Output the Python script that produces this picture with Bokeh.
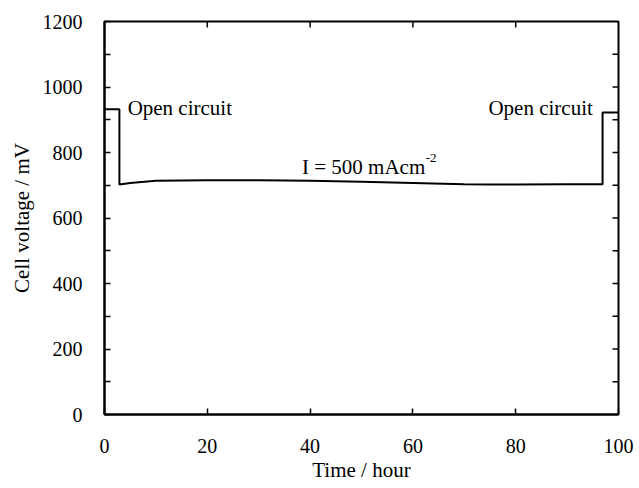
import math
from bokeh.plotting import figure
from bokeh.models import Range1d, FixedTicker, Label
from bokeh.embed import file_html
from bokeh.resources import INLINE

# Data
time_h = [0, 2.9, 2.9, 5, 10, 20, 30, 40, 50, 60, 70, 75, 80, 90, 96.9, 96.9, 100]
voltage_mv = [932, 932, 702, 707, 714, 715, 715, 714, 711, 707, 703, 702, 702, 703, 703, 922, 922]

x_ticks = [0, 20, 40, 60, 80, 100]
y_ticks = [0, 200, 400, 600, 800, 1000, 1200]
y_minor = [100, 300, 500, 700, 900, 1100]

X_MAX = 100
Y_MAX = 1200
FONT = "Liberation Serif"

p = figure(width=639, height=488, output_backend="svg", toolbar_location=None,
           x_range=Range1d(0, X_MAX), y_range=Range1d(0, Y_MAX),
           min_border_left=104, min_border_right=21, min_border_top=21, min_border_bottom=74)
p.background_fill_color = "white"
p.border_fill_color = "white"
p.grid.visible = False
p.outline_line_color = "black"
p.outline_line_width = 2

p.line(time_h, voltage_mv, line_color="black", line_width=2)

def style_axis(ax):
    ax.axis_line_color = "black"
    ax.axis_line_width = 2
    ax.major_tick_in = 6
    ax.major_tick_out = 0
    ax.minor_tick_in = 6
    ax.minor_tick_out = 0
    ax.major_tick_line_width = 1.5
    ax.minor_tick_line_width = 1.5
    ax.major_label_text_font = FONT
    ax.major_label_text_font_size = "20px"
    ax.major_label_text_color = "black"
    ax.axis_label_text_font = FONT
    ax.axis_label_text_font_style = "normal"
    ax.axis_label_text_font_size = "21px"
    ax.axis_label_text_color = "black"

xa = p.xaxis[0]
xa.ticker = FixedTicker(ticks=x_ticks)
style_axis(xa)
xa.major_label_standoff = 24
xa.axis_label = "Time / hour"
xa.axis_label_standoff = 2

ya = p.yaxis[0]
ya.ticker = FixedTicker(ticks=y_ticks, minor_ticks=y_minor)
style_axis(ya)
ya.major_label_standoff = 22
ya.axis_label = "Cell voltage / mV"
ya.axis_label_standoff = 6

# Mirrored inward ticks on the top and right frame edges (screen-length rays)
inner_x = x_ticks[1:-1]
p.ray(x=inner_x, y=[Y_MAX] * len(inner_x), length=6, length_units="screen",
      angle=-math.pi / 2, line_color="black", line_width=1.5)
all_y = sorted(y_ticks[1:-1] + y_minor)
p.ray(x=[X_MAX] * len(all_y), y=all_y, length=6, length_units="screen",
      angle=math.pi, line_color="black", line_width=1.5)

# Annotations
p.add_layout(Label(x=4.5, y=937, text="Open circuit", text_font=FONT, text_font_size="21px",
                   text_align="left", text_baseline="alphabetic", text_color="black"))
p.add_layout(Label(x=95.0, y=937, text="Open circuit", text_font=FONT, text_font_size="21px",
                   text_align="right", text_baseline="alphabetic", text_color="black"))
p.add_layout(Label(x=62.4, y=755, text="I = 500 mAcm", text_font=FONT, text_font_size="21px",
                   text_align="right", text_baseline="alphabetic", text_color="black"))
p.add_layout(Label(x=62.5, y=782, text="-2", text_font=FONT, text_font_size="13px",
                   text_align="left", text_baseline="alphabetic", text_color="black"))

open("out.html", "w").write(file_html(p, INLINE))
